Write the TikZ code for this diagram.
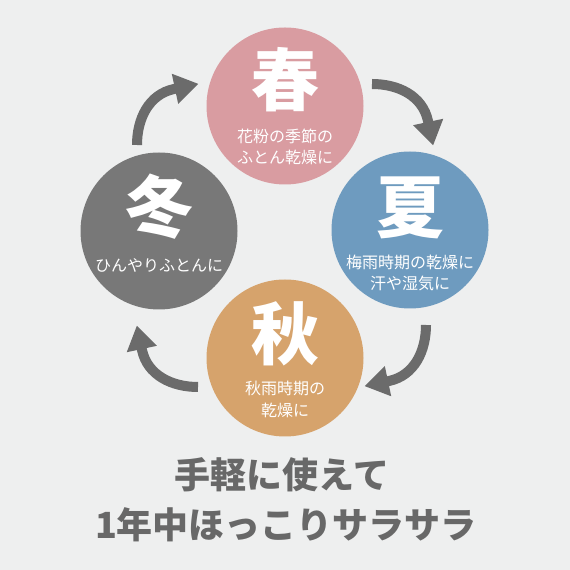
\documentclass[tikz,border=0pt]{standalone}
\usepackage{fontspec}
\setmainfont{Noto Sans CJK JP}
\usetikzlibrary{arrows.meta,bending,calc}
\definecolor{bg}{HTML}{EEEFEF}
\definecolor{haruc}{HTML}{D99CA1}
\definecolor{natsuc}{HTML}{6E9BBF}
\definecolor{akic}{HTML}{D6A36C}
\definecolor{fuyuc}{HTML}{787878}
\definecolor{arrowc}{HTML}{6B6B6B}
\definecolor{capc}{HTML}{686868}
\begin{document}
\begin{tikzpicture}[x=1pt,y=1pt,
  season/.style={circle,minimum size=157pt,inner sep=0pt},
  bigch/.style={text=white,font=\fontsize{68}{72}\selectfont\bfseries,inner sep=0pt},
  smalltx/.style={text=white,font=\fontsize{16}{20}\selectfont,inner sep=0pt},
  cyc/.style={draw=arrowc,line width=10pt,-{Triangle[width=29pt,length=24pt]}},
  captx/.style={text=capc,font=\fontsize{36}{40}\selectfont\bfseries,inner sep=0pt}]
\fill[bg] (0,0) rectangle (570,570);
\useasboundingbox (0,0) rectangle (570,570);
\coordinate (ctr) at (285,338);
% circles
\node[season,fill=haruc] (haru) at (285,464) {};
\node[season,fill=natsuc] (natsu) at (410,340) {};
\node[season,fill=akic] (aki) at (285,212) {};
\node[season,fill=fuyuc] (fuyu) at (159,339) {};
% texts
\node[bigch] (haruK) at (285,490) {春};
\node[smalltx] (haru1) at (285,434) {花粉の季節の};
\node[smalltx] (haru2) at (285,413) {ふとん乾燥に};
\node[bigch] (natsuK) at (410,362) {夏};
\node[smalltx] (natsu1) at (410,308) {梅雨時期の乾燥に};
\node[smalltx] (natsu2) at (410,287) {汗や湿気に};
\node[bigch] (akiK) at (285,236) {秋};
\node[smalltx] (aki1) at (285,182) {秋雨時期の};
\node[smalltx] (aki2) at (285,160) {乾燥に};
\node[bigch] (fuyuK) at (159,363) {冬};
\node[smalltx] (fuyu1) at (159,305) {ひんやりふとんに};
% arrows (same shape, rotated round the centre)
\foreach \r/\dx/\dy [count=\i] in {0/0/0, -90/0/0, -180/-7/-6, -270/0/-7} {
  \begin{scope}[shift={($(ctr)+(\dx,\dy)$)}, rotate=\r]
    \coordinate (arr\i s) at (-148,87);
    \coordinate (arr\i e) at (-111,143);
    \draw[cyc] (arr\i s) .. controls (-148,113) and (-136.4,137.6) .. (arr\i e) -- ++(12:25);
  \end{scope}
}
% caption
\node[captx] (cap1) at (282,95) {手軽に使えて};
\node[captx] (cap2) at (286,45) {1年中ほっこりサラサラ};
\end{tikzpicture}
\end{document}
